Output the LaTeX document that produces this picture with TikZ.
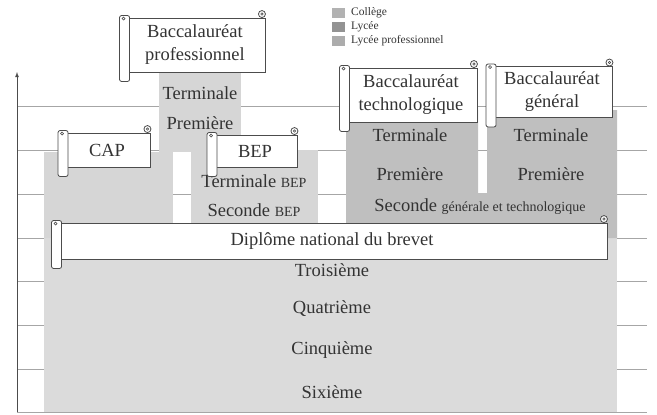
\documentclass[tikz,border=0pt]{standalone}
\usepackage{fontspec}
\setmainfont{Liberation Serif}
\usepackage{tikz}

\definecolor{college}{gray}{0.86}
\definecolor{lycee}{gray}{0.75}
\definecolor{lyceepro}{gray}{0.84}
\definecolor{trait}{gray}{0.3}

% rouleaux d'un parchemin autour du noeud #1
\newcommand{\rouleau}[1]{%
  \draw[draw=trait, fill=white, line width=0.8pt, rounded corners=2pt] ([xshift=-5pt,yshift=2pt]#1.north west) rectangle ([xshift=5pt,yshift=-9pt]#1.south west);
  \draw[trait, line width=0.6pt] ([xshift=-1pt,yshift=-1pt]#1.north west) circle [radius=1.5pt];
  \draw[draw=trait, fill=white, line width=0.8pt] ([xshift=-3.5pt,yshift=3.5pt]#1.north east) circle [radius=3.5pt];
  \draw[trait, line width=0.6pt] ([xshift=-3.5pt,yshift=3.5pt]#1.north east) circle [radius=1.2pt];
}

\begin{document}
\begin{tikzpicture}[x=1pt, y=-1pt,
  grille/.style={gray!70, line width=0.5pt},
  bandeau/.style={draw=trait, fill=white, line width=0.9pt, align=center, inner sep=0pt, text=black!80, font=\fontsize{18.5}{23}\selectfont},
  classe/.style={inner sep=0pt, text=black!80, font=\fontsize{18.5}{22}\selectfont},
  petit/.style={font=\fontsize{14}{16}\selectfont},
  legende/.style={anchor=west, inner sep=0pt, text=black!80, font=\fontsize{11.5}{13}\selectfont}]
\useasboundingbox (0,0) rectangle (657,415);

% grille et axe
\foreach \y in {106,150,194,238,281,325,369,412}
  \draw[grille] (17,\y) -- (647,\y);
\draw[trait, line width=0.8pt, -latex] (17,412) -- (17,72);

% zones
\fill[college] (44,238) rectangle (617,412);
\fill[lyceepro] (44,152) rectangle (173,238);
\fill[lyceepro] (191,150) rectangle (318,238);
\fill[lyceepro] (159,65) rectangle (241,152);
\fill[lycee] (346,110) -- (478,110) -- (478,193) -- (487,193) -- (487,110) -- (617,110) -- (617,238) -- (346,238) -- cycle;

% legende
\fill[gray!60] (332,8) rectangle (345,18);
\fill[gray!85] (332,22) rectangle (345,32);
\fill[gray!65] (332,36) rectangle (345,46);
\node[legende] (legColl) at (351,13) {Collège};
\node[legende] (legLyc) at (351,27) {Lycée};
\node[legende] (legPro) at (351,41) {Lycée professionnel};

% classes
\node[classe] (termPro) at (200,93) {Terminale};
\node[classe] (premPro) at (200,123) {Première};
\node[classe] (termBep) at (254,181) {Terminale {\fontsize{14}{16}\selectfont BEP}};
\node[classe] (secBep) at (254,210) {Seconde {\fontsize{14}{16}\selectfont BEP}};
\node[classe] (termTechno) at (410,135) {Terminale};
\node[classe] (premTechno) at (410,174) {Première};
\node[classe] (termGen) at (551,135) {Terminale};
\node[classe] (premGen) at (551,174) {Première};
\node[classe] (seconde) at (480,207) {Seconde {\fontsize{14}{16}\selectfont générale et technologique}};
\node[classe] (troisieme) at (332,270) {Troisième};
\node[classe] (quatrieme) at (332,309) {Quatrième};
\node[classe] (cinquieme) at (332,350) {Cinquième};
\node[classe] (sixieme) at (332,392) {Sixième};

% diplomes
\node[bandeau, minimum width=140pt, minimum height=54pt] (bacPro) at (195,45) {Baccalauréat\\professionnel};
\rouleau{bacPro}
\node[bandeau, minimum width=132pt, minimum height=54pt] (bacTechno) at (411,95) {Baccalauréat\\technologique};
\rouleau{bacTechno}
\node[bandeau, minimum width=121pt, minimum height=51pt] (bacGen) at (552,92) {Baccalauréat\\général};
\rouleau{bacGen}
\node[bandeau, minimum width=87pt, minimum height=34pt] (cap) at (107,150) {CAP};
\rouleau{cap}
\node[bandeau, minimum width=85pt, minimum height=32pt] (bep) at (255,151) {BEP};
\rouleau{bep}
\node[bandeau, minimum width=550pt, minimum height=36pt] (brevet) at (332,241) {Diplôme national du brevet};
\rouleau{brevet}
\end{tikzpicture}
\end{document}
